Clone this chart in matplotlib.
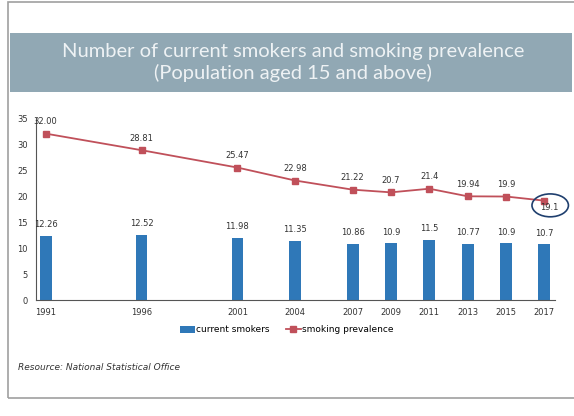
import matplotlib.pyplot as plt
from matplotlib.patches import Rectangle, Ellipse

years = [1991, 1996, 2001, 2004, 2007, 2009, 2011, 2013, 2015, 2017]
smokers = [12.26, 12.52, 11.98, 11.35, 10.86, 10.9, 11.5, 10.77, 10.9, 10.7]
prevalence = [32.00, 28.81, 25.47, 22.98, 21.22, 20.7, 21.4, 19.94, 19.9, 19.1]
smoker_labels = ["12.26", "12.52", "11.98", "11.35", "10.86", "10.9", "11.5", "10.77", "10.9", "10.7"]
prev_labels = ["32.00", "28.81", "25.47", "22.98", "21.22", "20.7", "21.4", "19.94", "19.9", "19.1"]

bar_col = "#2f78b8"
line_col = "#c0505a"

fig = plt.figure(figsize=(5.74, 4.16), dpi=100)

# card frame and title banner
fig.patches.append(Rectangle((8/574, 1-398/416), 1.0, 396/416, transform=fig.transFigure,
                             fill=False, edgecolor="#a0a0a0", lw=1.2))
fig.patches.append(Rectangle((10/574, 1-92/416), 562/574, 59/416, transform=fig.transFigure,
                             facecolor="#91a8b4", edgecolor="none"))
fig.text(0.51, 1-51/416, "Number of current smokers and smoking prevalence",
         ha="center", va="center", color="#eef2f4", fontsize=14.5, family="Lato")
fig.text(0.51, 1-73/416, "(Population aged 15 and above)",
         ha="center", va="center", color="#eef2f4", fontsize=14.5, family="Lato")

ax = fig.add_axes([36/574, 1-300/416, (555-36)/574, 182/416])
bars = ax.bar(years, smokers, width=0.62, color=bar_col, label="current smokers", zorder=2)
line, = ax.plot(years, prevalence, color=line_col, marker="s", markersize=4, lw=1.3,
                label="smoking prevalence", zorder=3)

for x, v, t in zip(years, smokers, smoker_labels):
    ax.text(x, v + 1.3, t, ha="center", va="bottom", fontsize=6, color="#333333")
for x, v, t in zip(years, prevalence, prev_labels):
    if t == "19.1":
        ax.text(x + 0.25, v - 0.4, t, ha="center", va="top", fontsize=6, color="#333333")
    else:
        ax.text(x, v + 1.4, t, ha="center", va="bottom", fontsize=6, color="#333333")

ax.add_patch(Ellipse((years[-1] + 0.3, prevalence[-1] - 0.9), 1.9, 4.4,
                     fill=False, edgecolor="#1f3f6e", lw=1.2, zorder=4, clip_on=False))

ax.set_xlim(1990.5, 2017.55)
ax.set_ylim(0, 35)
ax.set_yticks(range(0, 36, 5))
ax.set_xticks(years)
ax.tick_params(labelsize=6, length=0, colors="#333333", pad=6)
for s in ["top", "right"]:
    ax.spines[s].set_visible(False)
ax.spines["left"].set_color("#555555")
ax.spines["bottom"].set_color("#555555")
ax.spines["left"].set_linewidth(0.8)
ax.spines["bottom"].set_linewidth(0.8)

fig.legend([bars, line], ["current smokers", "smoking prevalence"], loc="center",
           bbox_to_anchor=(0.5, 1-330/416), ncol=2, frameon=False,
           fontsize=6.5, handlelength=1.6, handletextpad=0.2, columnspacing=1.8)

fig.text(18/574, 1-368/416, "Resource: National Statistical Office", fontsize=6.5,
         style="italic", color="#333333", va="center")

fig.savefig("out.png", dpi=100)
